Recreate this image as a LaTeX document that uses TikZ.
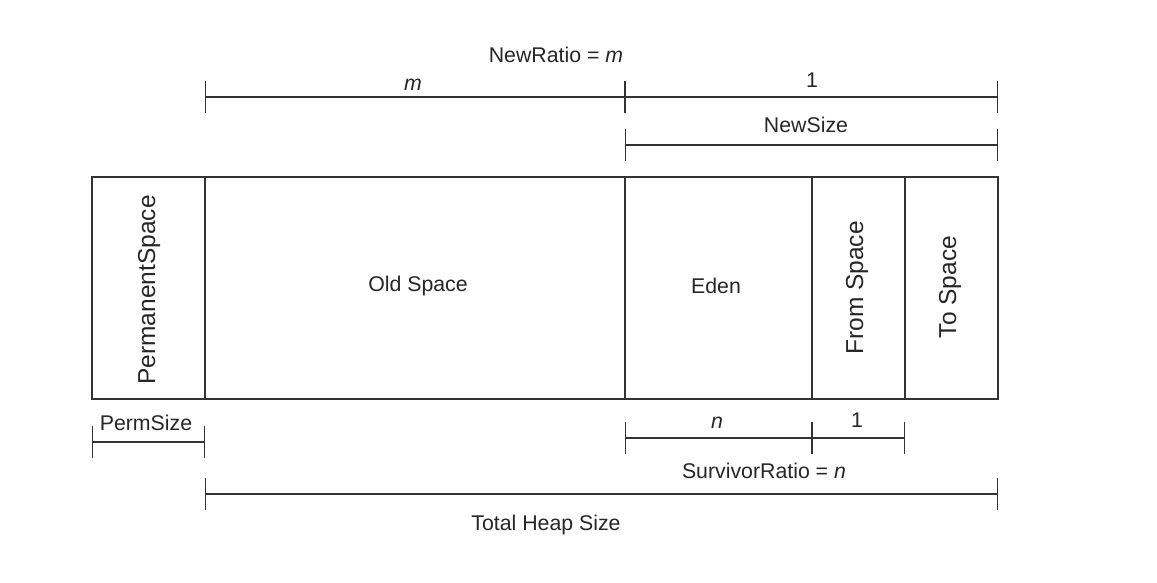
\documentclass[tikz,border=0pt]{standalone}
\usepackage{fontspec}
\setmainfont{Liberation Sans}
\usepackage{tikz}
\usetikzlibrary{arrows.meta,calc,positioning}

\tikzset{
  lbl/.style={font=\fontsize{21.3}{25}\selectfont,text=black!85,inner sep=0pt},
  vlbl/.style={lbl,font=\fontsize{24.5}{28}\selectfont,rotate=90},
  dim/.style={black!80,line width=1.2pt,{Bar[width=32pt]}-{Bar[width=32pt]}},
  wall/.style={black!80,line width=1.2pt}
}

\begin{document}
\begin{tikzpicture}[x=1pt,y=-1pt]
  \useasboundingbox (0,0) rectangle (1157,582);
  % the heap
  \coordinate (tl) at (92,177);
  \coordinate (br) at (998,399);
  \draw[wall] (tl) rectangle (br);
  \foreach \x in {205,625,812,905}
    \draw[wall] (\x,177) -- (\x,399);
  \node[vlbl] (perm) at (149,290) {PermanentSpace};
  \node[lbl] (old) at (418,286) {Old Space};
  \node[lbl] (eden) at (716,286) {Eden};
  \node[vlbl] (from) at (857,288) {From Space};
  \node[vlbl] (to) at (950,287) {To Space};
  % ratios above
  \coordinate (m0) at (205,97);
  \coordinate (m1) at (625,97);
  \coordinate (m2) at (998,97);
  \coordinate (s0) at (625,145);
  \coordinate (s1) at (998,145);
  \draw[dim] (m0) -- (m1);
  \draw[dim] (m1) -- (m2);
  \draw[dim] (s0) -- (s1);
  \node[lbl,anchor=base] (ratio) at (556,62) {NewRatio = \textit{m}};
  \node[lbl,anchor=base] (mlbl) at (413,90) {\textit{m}};
  \node[lbl,anchor=base] (onetop) at (812,87) {1};
  \node[lbl,anchor=base] (newsize) at (806,132) {NewSize};
  % sizes below
  \coordinate (p0) at (92,442);
  \coordinate (p1) at (205,442);
  \coordinate (n0) at (625,438);
  \coordinate (n1) at (812,438);
  \coordinate (n2) at (905,438);
  \coordinate (h0) at (205,494);
  \coordinate (h1) at (998,494);
  \draw[dim] (p0) -- (p1);
  \draw[dim] (n0) -- (n1);
  \draw[dim] (n1) -- (n2);
  \draw[dim] (h0) -- (h1);
  \node[lbl,anchor=base] (permsize) at (146,430) {PermSize};
  \node[lbl,anchor=base] (nlbl) at (717,428) {\textit{n}};
  \node[lbl,anchor=base] (onebot) at (857,427) {1};
  \node[lbl,anchor=base] (surv) at (764,478) {SurvivorRatio = \textit{n}};
  \node[lbl,anchor=base] (total) at (546,530) {Total Heap Size};
\end{tikzpicture}
\end{document}
